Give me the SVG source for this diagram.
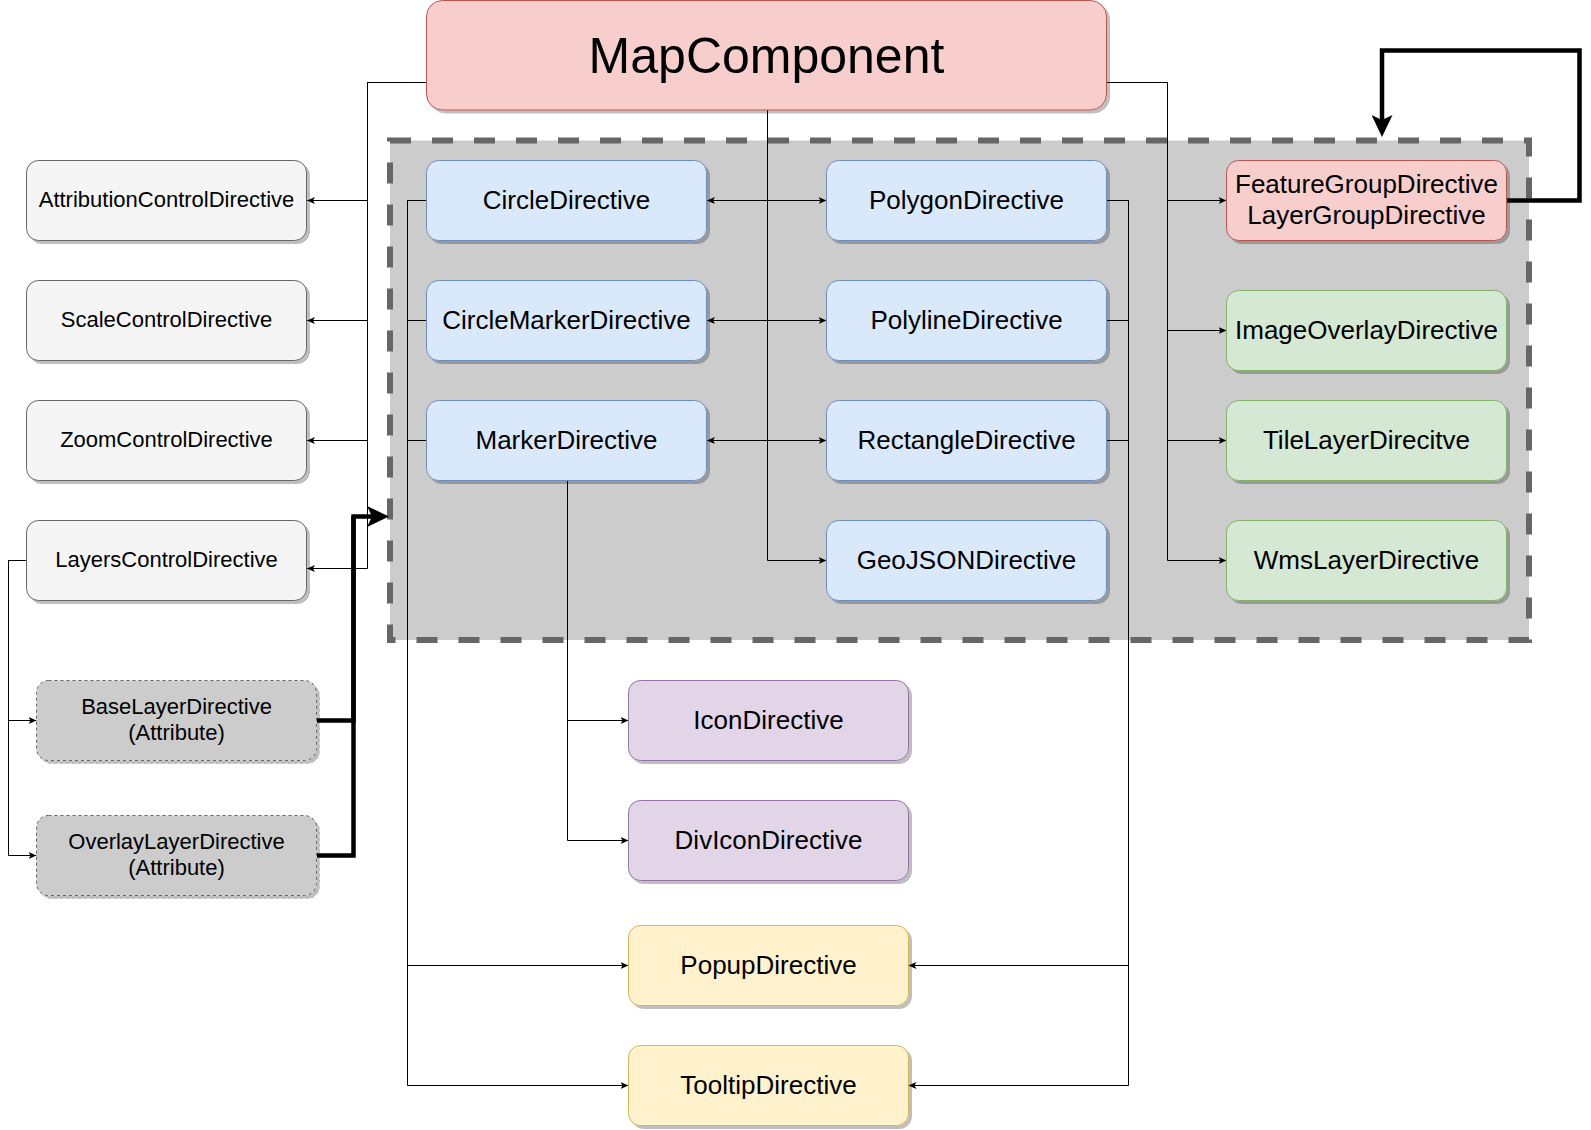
<svg xmlns="http://www.w3.org/2000/svg" width="1591" height="1130" viewBox="0 0 1591 1130">
<defs>
<filter id="sh" x="-10%" y="-10%" width="130%" height="140%">
<feDropShadow dx="3" dy="3" stdDeviation="0.6" flood-color="#000" flood-opacity="0.25"/>
</filter>
<marker id="a" markerUnits="userSpaceOnUse" viewBox="0 0 8 8" markerWidth="8" markerHeight="8" refX="8" refY="4" orient="auto">
<path d="M0,0.5 L8,4 L0,7.5 L2,4 Z" fill="#000"/>
</marker>
<marker id="b" markerUnits="userSpaceOnUse" viewBox="0 0 22 21" markerWidth="22" markerHeight="21" refX="5" refY="10.5" orient="auto">
<path d="M0,0 L22,10.5 L0,21 L5,10.5 Z" fill="#000"/>
</marker>
</defs>
<style>
text{font-family:"Liberation Sans",Arial,Helvetica,sans-serif;fill:#000;text-anchor:middle}
.t26{font-size:26px}
.t22{font-size:22px}
.n rect{stroke-width:1}
.gray rect{fill:#f5f5f5;stroke:#666666}
.attr rect{fill:#cccccc;stroke:#666666;stroke-dasharray:3 3}
.red rect{fill:#f8cecc;stroke:#b85450}
.blue rect{fill:#dae8fc;stroke:#6c8ebf}
.green rect{fill:#d5e8d4;stroke:#82b366}
.purple rect{fill:#e1d5e7;stroke:#9673a6}
.yellow rect{fill:#fff2cc;stroke:#d6b656}
.e path{fill:none;stroke:#000;stroke-width:1}
.e .s{marker-end:url(#a)}
.e .k{stroke-width:4.5;marker-end:url(#b)}
.e .k2{stroke-width:4.5}
</style>
<g id="container">
<rect x="390" y="140.5" width="1139" height="499.5" fill="#cccccc" stroke="#666666" stroke-width="6" stroke-dasharray="21 21"/>
</g>
<g id="connectors" class="e">
<path class="s" d="M426.5,82.5 H367.5 V200.5 H307"/>
<path class="s" d="M426.5,82.5 H367.5 V320.5 H307"/>
<path class="s" d="M426.5,82.5 H367.5 V440.5 H307"/>
<path class="s" d="M426.5,82.5 H367.5 V568.5 H307"/>
<path class="s" d="M1106.5,82.5 H1167.5 V200.5 H1226.5"/>
<path class="s" d="M1106.5,82.5 H1167.5 V330.5 H1226.5"/>
<path class="s" d="M1106.5,82.5 H1167.5 V440.5 H1226.5"/>
<path class="s" d="M1106.5,82.5 H1167.5 V560.5 H1226.5"/>
<path class="s" d="M767.5,110 V200.5 H707"/>
<path class="s" d="M767.5,110 V200.5 H826.5"/>
<path class="s" d="M767.5,110 V320.5 H707"/>
<path class="s" d="M767.5,110 V320.5 H826.5"/>
<path class="s" d="M767.5,110 V440.5 H707"/>
<path class="s" d="M767.5,110 V440.5 H826.5"/>
<path class="s" d="M767.5,110 V560.5 H826.5"/>
<path class="s" d="M426.5,200.5 H407.5 V965.5 H628.5"/>
<path class="s" d="M426.5,200.5 H407.5 V1085.5 H628.5"/>
<path d="M426.5,320.5 H407.5"/>
<path d="M426.5,440.5 H407.5"/>
<path class="s" d="M1106.5,200.5 H1128.5 V965.5 H908.5"/>
<path class="s" d="M1106.5,200.5 H1128.5 V1085.5 H908.5"/>
<path d="M1106.5,320.5 H1128.5"/>
<path d="M1106.5,440.5 H1128.5"/>
<path class="s" d="M567.5,480.5 V720.5 H628.5"/>
<path class="s" d="M567.5,480.5 V840.5 H628.5"/>
<path class="s" d="M26.5,560.5 H8.5 V720.5 H36.5"/>
<path class="s" d="M26.5,560.5 H8.5 V855.5 H36.5"/>
<path class="k2" d="M317,720.5 H353.5 V516.5"/>
<path class="k" d="M317,855.5 H353.5 V516.5 H372"/>
<path class="k" d="M1507,200.5 H1579.5 V50.5 H1382 V120"/>
</g>
<g id="MapComponent" class="n red">
<rect x="426.5" y="0.5" width="680" height="109.5" rx="16" filter="url(#sh)"/>
<text x="766.5" y="72.5" style="font-size:50px">MapComponent</text>
</g>
<g id="AttributionControlDirective" class="n gray">
<rect x="26.5" y="160.5" width="280" height="80" rx="12" filter="url(#sh)"/>
<text class="t22" x="166.5" y="207">AttributionControlDirective</text>
</g>
<g id="ScaleControlDirective" class="n gray">
<rect x="26.5" y="280.5" width="280" height="80" rx="12" filter="url(#sh)"/>
<text class="t22" x="166.5" y="327">ScaleControlDirective</text>
</g>
<g id="ZoomControlDirective" class="n gray">
<rect x="26.5" y="400.5" width="280" height="80" rx="12" filter="url(#sh)"/>
<text class="t22" x="166.5" y="447">ZoomControlDirective</text>
</g>
<g id="LayersControlDirective" class="n gray">
<rect x="26.5" y="520.5" width="280" height="80" rx="12" filter="url(#sh)"/>
<text class="t22" x="166.5" y="567">LayersControlDirective</text>
</g>
<g id="BaseLayerDirective" class="n attr">
<rect x="36.5" y="680.5" width="280" height="80" rx="12" filter="url(#sh)"/>
<text class="t22" x="176.5" y="713.5">BaseLayerDirective</text>
<text class="t22" x="176.5" y="739.5">(Attribute)</text>
</g>
<g id="OverlayLayerDirective" class="n attr">
<rect x="36.5" y="815.5" width="280" height="80" rx="12" filter="url(#sh)"/>
<text class="t22" x="176.5" y="848.5">OverlayLayerDirective</text>
<text class="t22" x="176.5" y="874.5">(Attribute)</text>
</g>
<g id="CircleDirective" class="n blue">
<rect x="426.5" y="160.5" width="280" height="80" rx="12" filter="url(#sh)"/>
<text class="t26" x="566.5" y="208.5">CircleDirective</text>
</g>
<g id="CircleMarkerDirective" class="n blue">
<rect x="426.5" y="280.5" width="280" height="80" rx="12" filter="url(#sh)"/>
<text class="t26" x="566.5" y="328.5">CircleMarkerDirective</text>
</g>
<g id="MarkerDirective" class="n blue">
<rect x="426.5" y="400.5" width="280" height="80" rx="12" filter="url(#sh)"/>
<text class="t26" x="566.5" y="448.5">MarkerDirective</text>
</g>
<g id="PolygonDirective" class="n blue">
<rect x="826.5" y="160.5" width="280" height="80" rx="12" filter="url(#sh)"/>
<text class="t26" x="966.5" y="208.5">PolygonDirective</text>
</g>
<g id="PolylineDirective" class="n blue">
<rect x="826.5" y="280.5" width="280" height="80" rx="12" filter="url(#sh)"/>
<text class="t26" x="966.5" y="328.5">PolylineDirective</text>
</g>
<g id="RectangleDirective" class="n blue">
<rect x="826.5" y="400.5" width="280" height="80" rx="12" filter="url(#sh)"/>
<text class="t26" x="966.5" y="448.5">RectangleDirective</text>
</g>
<g id="GeoJSONDirective" class="n blue">
<rect x="826.5" y="520.5" width="280" height="80" rx="12" filter="url(#sh)"/>
<text class="t26" x="966.5" y="568.5">GeoJSONDirective</text>
</g>
<g id="FeatureGroupDirective" class="n red">
<rect x="1226.5" y="160.5" width="280" height="80" rx="12" filter="url(#sh)"/>
<text class="t26" x="1366.5" y="193">FeatureGroupDirective</text>
<text class="t26" x="1366.5" y="224">LayerGroupDirective</text>
</g>
<g id="ImageOverlayDirective" class="n green">
<rect x="1226.5" y="290.5" width="280" height="80" rx="12" filter="url(#sh)"/>
<text class="t26" x="1366.5" y="338.5">ImageOverlayDirective</text>
</g>
<g id="TileLayerDirecitve" class="n green">
<rect x="1226.5" y="400.5" width="280" height="80" rx="12" filter="url(#sh)"/>
<text class="t26" x="1366.5" y="448.5">TileLayerDirecitve</text>
</g>
<g id="WmsLayerDirective" class="n green">
<rect x="1226.5" y="520.5" width="280" height="80" rx="12" filter="url(#sh)"/>
<text class="t26" x="1366.5" y="568.5">WmsLayerDirective</text>
</g>
<g id="IconDirective" class="n purple">
<rect x="628.5" y="680.5" width="280" height="80" rx="12" filter="url(#sh)"/>
<text class="t26" x="768.5" y="728.5">IconDirective</text>
</g>
<g id="DivIconDirective" class="n purple">
<rect x="628.5" y="800.5" width="280" height="80" rx="12" filter="url(#sh)"/>
<text class="t26" x="768.5" y="848.5">DivIconDirective</text>
</g>
<g id="PopupDirective" class="n yellow">
<rect x="628.5" y="925.5" width="280" height="80" rx="12" filter="url(#sh)"/>
<text class="t26" x="768.5" y="973.5">PopupDirective</text>
</g>
<g id="TooltipDirective" class="n yellow">
<rect x="628.5" y="1045.5" width="280" height="80" rx="12" filter="url(#sh)"/>
<text class="t26" x="768.5" y="1093.5">TooltipDirective</text>
</g>
</svg>
